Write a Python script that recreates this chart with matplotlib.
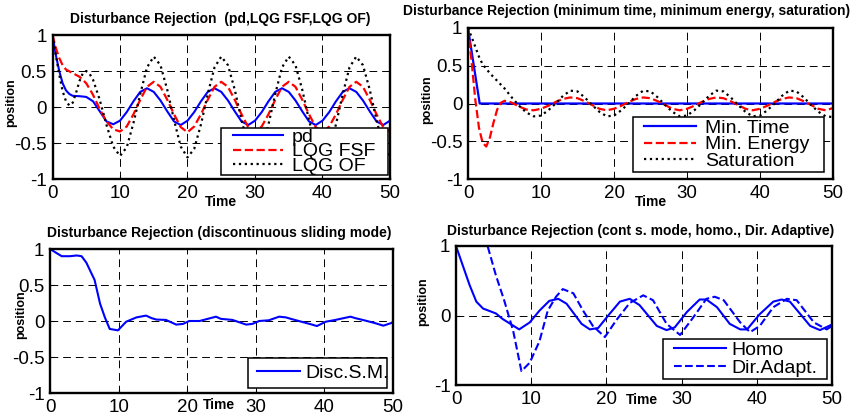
import matplotlib
matplotlib.use("Agg")
import matplotlib.pyplot as plt
from matplotlib.patches import Rectangle
from matplotlib.ticker import FormatStrFormatter

W, H = 859, 417

# ---- pd / LQG FSF / LQG OF ----
t_pd = [0, 0.5, 1, 1.5, 2, 2.5, 3, 4, 5, 6, 7, 8, 9, 10, 11, 12, 13, 14, 15, 16, 17, 18, 19, 20,
        21, 22, 23, 24, 25, 26, 27, 28, 29, 30, 31, 32, 33, 34, 35, 36, 37, 38, 39, 40,
        41, 42, 43, 44, 45, 46, 47, 48, 49, 50]
y_pd = [1.0, 0.72, 0.5, 0.33, 0.23, 0.18, 0.155, 0.15, 0.14, 0.08, -0.06, -0.2, -0.24, -0.19,
        -0.07, 0.08, 0.21, 0.26, 0.21, 0.09, -0.06, -0.2, -0.25, -0.19,
        -0.07, 0.08, 0.21, 0.26, 0.21, 0.09, -0.06, -0.2, -0.25, -0.19,
        -0.07, 0.08, 0.21, 0.26, 0.21, 0.09, -0.06, -0.2, -0.25, -0.19,
        -0.07, 0.08, 0.21, 0.26, 0.21, 0.09, -0.06, -0.2, -0.25, -0.19]

t_fsf = [0, 0.5, 1, 1.5, 2, 3, 4, 5, 6, 7, 8, 9, 10, 11, 12, 13, 14, 15, 16, 17, 18, 19, 20,
         21, 22, 23, 24, 25, 26, 27, 28, 29, 30, 31, 32, 33, 34, 35, 36, 37, 38, 39, 40,
         41, 42, 43, 44, 45, 46, 47, 48, 49, 50]
y_fsf = [1.0, 0.82, 0.68, 0.58, 0.52, 0.47, 0.42, 0.33, 0.17, -0.03, -0.2, -0.31, -0.34,
         -0.27, -0.1, 0.1, 0.28, 0.35, 0.28, 0.1, -0.1, -0.28, -0.35,
         -0.27, -0.1, 0.1, 0.28, 0.35, 0.28, 0.1, -0.1, -0.28, -0.35,
         -0.27, -0.1, 0.1, 0.28, 0.35, 0.28, 0.1, -0.1, -0.28, -0.35,
         -0.27, -0.1, 0.1, 0.28, 0.35, 0.28, 0.1, -0.1, -0.28, -0.34]

t_of = [0, 0.5, 1, 1.5, 2, 2.5, 3, 3.5, 4, 4.5, 5, 5.5, 6, 7, 8, 9, 10, 11, 12, 13, 14, 15,
        16, 17, 18, 19, 20, 21, 22, 23, 24, 25, 26, 27, 28, 29, 30, 31, 32, 33, 34, 35,
        36, 37, 38, 39, 40, 41, 42, 43, 44, 45, 46, 47, 48, 49, 50]
y_of = [1.0, 0.72, 0.45, 0.22, 0.08, 0.02, 0.06, 0.2, 0.36, 0.47, 0.5, 0.46, 0.38, 0.1,
        -0.25, -0.55, -0.68, -0.56, -0.22, 0.18, 0.55, 0.7,
        0.58, 0.24, -0.18, -0.55, -0.7, -0.58, -0.24, 0.18, 0.55, 0.7,
        0.58, 0.24, -0.18, -0.55, -0.7, -0.58, -0.24, 0.18, 0.55, 0.7,
        0.58, 0.24, -0.18, -0.55, -0.7, -0.58, -0.24, 0.18, 0.55, 0.7,
        0.58, 0.24, -0.18, -0.55, -0.7]

# ---- minimum time / minimum energy / saturation ----
t_mt = [0, 1.6, 50]
y_mt = [1.0, 0.0, 0.0]

t_me = [0, 0.5, 1, 1.5, 2, 2.5, 3, 3.5, 4, 4.5, 5, 5.5, 6, 7, 8, 9, 10, 11, 12, 13, 14, 15,
        16, 17, 18, 19, 20, 21, 22, 23, 24, 25, 26, 27, 28, 29, 30, 31, 32, 33, 34, 35,
        36, 37, 38, 39, 40, 41, 42, 43, 44, 45, 46, 47, 48, 49, 50]
y_me = [1.0, 0.55, 0.05, -0.32, -0.52, -0.57, -0.45, -0.25, -0.08, 0.01, 0.035, 0.03, 0.01,
        -0.04, -0.08, -0.09, -0.07, -0.03, 0.02, 0.06, 0.08, 0.07,
        0.03, -0.02, -0.07, -0.09, -0.07, -0.03, 0.02, 0.06, 0.08, 0.07,
        0.03, -0.02, -0.07, -0.09, -0.07, -0.03, 0.02, 0.06, 0.08, 0.07,
        0.03, -0.02, -0.07, -0.09, -0.07, -0.03, 0.02, 0.06, 0.08, 0.07,
        0.03, -0.02, -0.07, -0.09, -0.06]

t_sat = [0, 0.5, 1, 1.5, 2, 3, 4, 5, 6, 7, 8, 9, 10, 11, 12, 13, 14, 15, 16, 17, 18, 19, 20,
         21, 22, 23, 24, 25, 26, 27, 28, 29, 30, 31, 32, 33, 34, 35, 36, 37, 38, 39, 40,
         41, 42, 43, 44, 45, 46, 47, 48, 49, 50]
y_sat = [1.0, 0.88, 0.75, 0.62, 0.52, 0.4, 0.3, 0.2, 0.08, -0.03, -0.12, -0.17, -0.16,
         -0.09, 0.0, 0.1, 0.17, 0.16, 0.08, -0.02, -0.11, -0.17, -0.16,
         -0.09, 0.0, 0.1, 0.17, 0.16, 0.08, -0.02, -0.11, -0.17, -0.16,
         -0.09, 0.0, 0.1, 0.17, 0.16, 0.08, -0.02, -0.11, -0.17, -0.16,
         -0.09, 0.0, 0.1, 0.17, 0.16, 0.08, -0.02, -0.11, -0.17, -0.18]

# ---- discontinuous sliding mode ----
t_dsm = [0, 1.7, 2.9, 3.9, 4.6, 5.3, 6.5, 7.3, 8.0, 8.7, 9.9, 11.1, 12.6, 14.0, 14.8, 15.5,
         16.9, 18.4, 19.4, 20.3, 21.8, 24.2, 24.9, 26.6, 28.6, 29.5, 30.5, 31.9, 33.4, 34.4,
         35.1, 38.2, 38.9, 40.2, 41.6, 43.8, 44.5, 46.0, 47.4, 48.6, 50]
y_dsm = [1.0, 0.9, 0.9, 0.91, 0.9, 0.81, 0.57, 0.24, 0.05, -0.11, -0.13, -0.01, 0.05, 0.075,
         0.04, 0.02, 0.015, -0.05, -0.04, 0.0, 0.0, 0.06, 0.03, 0.015, -0.05, -0.04, 0.0, 0.01,
         0.06, 0.05, 0.03, -0.05, -0.07, -0.01, 0.015, 0.06, 0.04, 0.005, -0.03, -0.065, -0.02]

# ---- continuous sliding mode: homogeneous / direct adaptive ----
t_homo = [0, 1.8, 2.7, 3.6, 5.3, 6.2, 8.4, 9.8, 11.1, 12.4, 13.6, 14.7, 16.7, 17.8, 18.9,
          20.4, 21.8, 23.1, 24.4, 26.7, 28.0, 29.1, 30.7, 32.4, 33.3, 34.7, 36.4, 37.8, 38.7,
          40.4, 42.2, 43.3, 44.4, 47.1, 48.4, 50]
y_homo = [1.0, 0.44, 0.2, 0.1, 0.03, -0.05, -0.2, -0.1, 0.07, 0.21, 0.24, 0.17, -0.12, -0.2,
          -0.18, 0.02, 0.2, 0.24, 0.15, -0.15, -0.21, -0.17, 0.05, 0.23, 0.23, 0.12, -0.12,
          -0.2, -0.2, 0.02, 0.2, 0.23, 0.2, -0.15, -0.21, -0.13]

t_dir = [3.0, 4.2, 5.3, 6.4, 7.6, 8.7, 9.8, 11.1, 12.2, 13.3, 14.2, 15.6, 16.9, 18.2, 19.8,
         21.3, 23.1, 24.9, 26.2, 28.0, 29.8, 31.6, 33.3, 34.4, 35.6, 37.8, 39.1, 40.4, 42.2,
         44.0, 45.3, 47.6, 49.3, 50]
y_dir = [1.45, 1.0, 0.58, 0.22, -0.22, -0.8, -0.68, -0.37, 0.07, 0.27, 0.38, 0.32, 0.07,
         -0.15, -0.31, -0.07, 0.18, 0.29, 0.22, -0.12, -0.28, -0.02, 0.24, 0.27, 0.22, -0.1,
         -0.24, -0.15, 0.12, 0.24, 0.22, -0.1, -0.2, -0.15]

plt.rcParams['font.family'] = ['Liberation Sans', 'DejaVu Sans']
plt.rcParams['axes.unicode_minus'] = False

fig = plt.figure(figsize=(W / 100, H / 100), dpi=100)


def px_rect(x0, y0, x1, y1):
    # pixel box (y down) -> figure fraction [left, bottom, width, height]
    return [x0 / W, 1 - y1 / H, (x1 - x0) / W, (y1 - y0) / H]


def fig_text(x, y, s, ha='center', **kw):
    fig.text(x / W, 1 - y / H, s, ha=ha, va='center', fontweight='bold', **kw)


def setup(ax, yticks, ygrid):
    ax.set_xlim(0, 50)
    ax.set_ylim(-1, 1)
    ax.set_xticks([0, 10, 20, 30, 40, 50])
    ax.set_yticks(yticks)
    ax.yaxis.set_major_formatter(FormatStrFormatter('%g'))
    ax.tick_params(direction='in', length=3, width=0.8, labelsize=13.5, pad=4)
    for s in ax.spines.values():
        s.set_linewidth(1.7)
    for x in [10, 20, 30, 40]:
        ax.axvline(x, color='k', lw=0.7, ls=(0, (8, 5)), zorder=1)
    for y in ygrid:
        ax.axhline(y, color='k', lw=0.7, ls=(0, (8, 5)), zorder=1)


def boxed_legend(ax, box, hx, handlelen, textpad, spacing):
    x0, y0, x1, y1 = box
    ax.add_patch(Rectangle((x0 / W, 1 - y1 / H), (x1 - x0) / W, (y1 - y0) / H,
                           transform=fig.transFigure, facecolor='white', edgecolor='black',
                           lw=1.1, clip_on=False, zorder=4))
    leg = ax.legend(loc='center left', bbox_to_anchor=(hx / W, 1 - (y0 + y1) / 2 / H),
                    bbox_transform=fig.transFigure, frameon=False, fontsize=14,
                    borderpad=0, borderaxespad=0, handlelength=handlelen,
                    handletextpad=textpad, labelspacing=spacing)
    leg.set_zorder(5)


# top left
ax1 = fig.add_axes(px_rect(52.5, 35, 390, 179))
setup(ax1, [-1, -0.5, 0, 0.5, 1], [-0.5, 0, 0.5])
ax1.plot(t_pd, y_pd, color='b', lw=1.5, label='pd')
ax1.plot(t_fsf, y_fsf, color='r', lw=1.6, ls='--', label='LQG FSF')
ax1.plot(t_of, y_of, color='k', lw=1.6, ls=':', label='LQG OF')
boxed_legend(ax1, (221, 128, 388, 175), 233, 2.57, 0.46, -0.16)
fig_text(220, 19, 'Disturbance Rejection  (pd,LQG FSF,LQG OF)', fontsize=10)
fig_text(11, 103, 'position', fontsize=9, rotation=90)
fig_text(221, 202, 'Time', fontsize=10)

# top right
ax2 = fig.add_axes(px_rect(468, 28, 833, 179))
setup(ax2, [-1, -0.5, 0, 0.5, 1], [-0.5, 0, 0.5])
ax2.plot(t_mt, y_mt, color='b', lw=1.6, label='Min. Time')
ax2.plot(t_me, y_me, color='r', lw=1.6, ls='--', label='Min. Energy')
ax2.plot(t_sat, y_sat, color='k', lw=1.6, ls=':', label='Saturation')
boxed_legend(ax2, (633, 117, 824, 172), 644, 2.67, 0.46, -0.07)
fig_text(403, 11, 'Disturbance Rejection (minimum time, minimum energy, saturation)',
         ha='left', fontsize=10)
fig_text(427, 100, 'position', fontsize=9, rotation=90)
fig_text(651, 202, 'Time', fontsize=10)

# bottom left
ax3 = fig.add_axes(px_rect(50, 249, 393, 393))
setup(ax3, [-1, -0.5, 0, 0.5, 1], [-0.5, 0, 0.5])
ax3.plot(t_dsm, y_dsm, color='b', lw=1.5, label='Disc.S.M.')
boxed_legend(ax3, (248, 358, 387, 388), 257, 2.21, 0.26, 0)
fig_text(219, 233, 'Disturbance Rejection (discontinuous sliding mode)', fontsize=10)
fig_text(21, 315, 'position', fontsize=9, rotation=90)
fig_text(219, 405, 'Time', fontsize=10)

# bottom right
ax4 = fig.add_axes(px_rect(456, 246, 832, 385))
setup(ax4, [-1, 0, 1], [0])
ax4.plot(t_homo, y_homo, color='b', lw=1.5, label='Homo')
ax4.plot(t_dir, y_dir, color='b', lw=1.5, ls='--', label='Dir.Adapt.')
boxed_legend(ax4, (663, 339, 827, 379), 674, 2.67, 0.26, 0.05)
fig_text(641, 231, 'Disturbance Rejection (cont s. mode, homo., Dir. Adaptive)', fontsize=10)
fig_text(423, 302, 'position', fontsize=9, rotation=90)
fig_text(642, 400, 'Time', fontsize=10)

fig.savefig('out.png', dpi=100)
